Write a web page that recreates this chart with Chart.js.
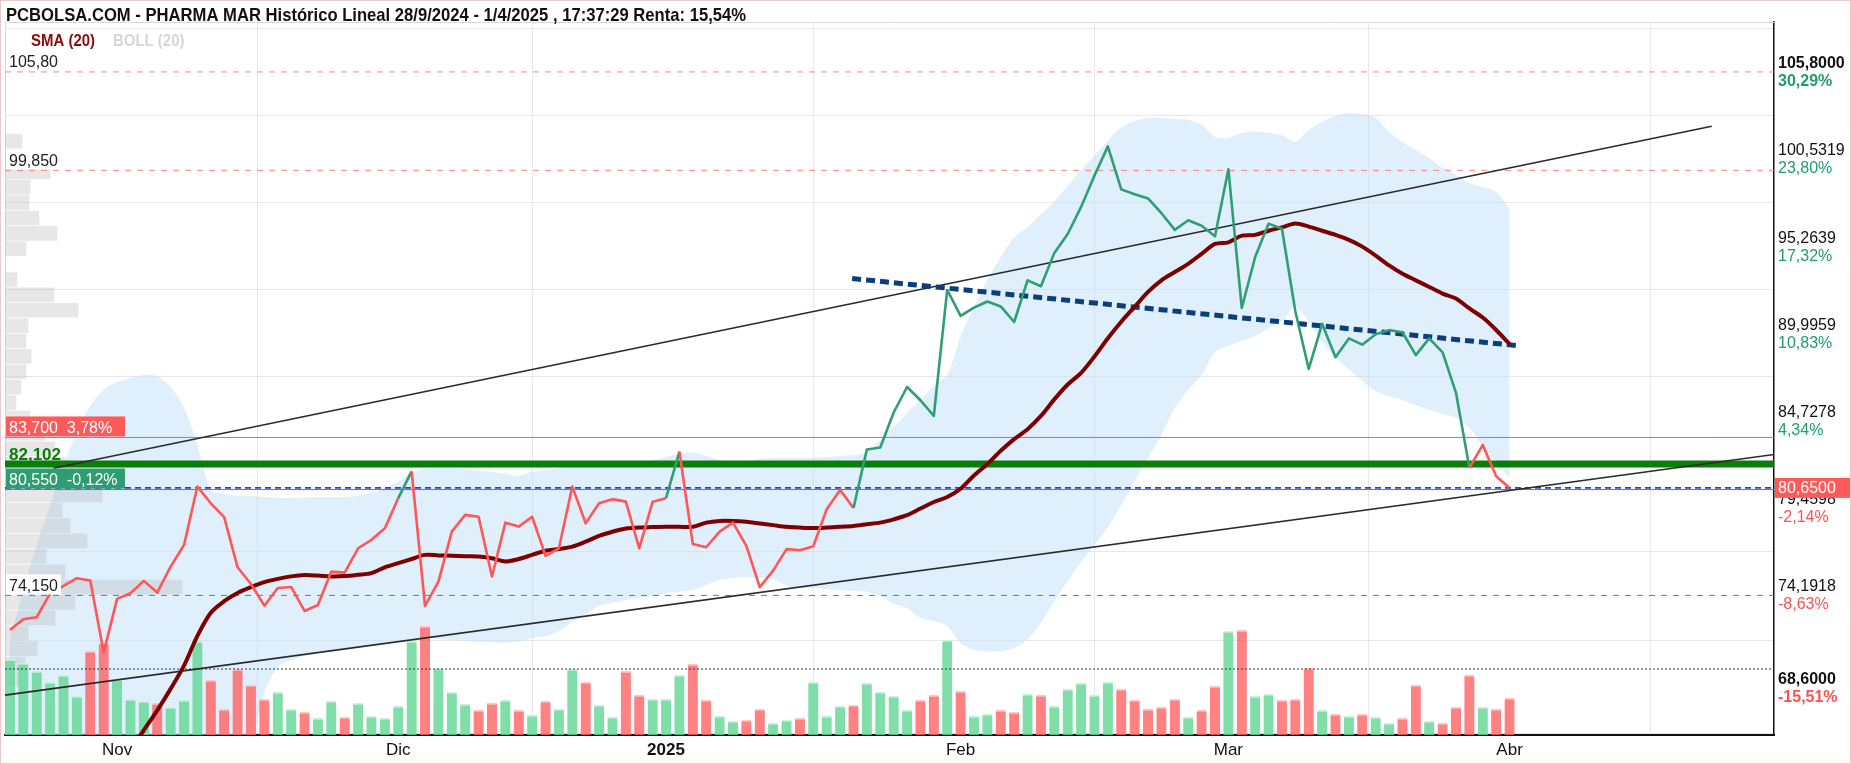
<!DOCTYPE html>
<html>
<head>
<meta charset="utf-8">
<script src="https://cdn.jsdelivr.net/npm/chart.js@4.4.1/dist/chart.umd.min.js"></script>
<style>
html,body{margin:0;padding:0;background:#fff;}
canvas{display:block;}
</style>
</head>
<body>
<canvas id="c" width="1851" height="764"></canvas>
<script>
// ---------------- DATA ----------------
const titleText = 'PCBOLSA.COM - PHARMA MAR Histórico Lineal 28/9/2024 - 1/4/2025 , 17:37:29 Renta: 15,54%';
const legendLabels = ['SMA (20)', 'BOLL (20)'];

// trading-day index of the first session of each month, and its label
const monthTickIndex = [8, 29, 49, 71, 91, 112];
const monthTickLabels = ['Nov', 'Dic', '2025', 'Feb', 'Mar', 'Abr'];

// daily closes, 22/10/2024 .. 1/4/2025
const closePrices = [
  72.06, 72.71, 72.83, 74.28, 74.72, 75.19, 75.05, 70.69, 73.94, 74.28,
  75.03, 74.32, 75.89, 77.20, 80.73, 79.72, 78.88, 75.85, 74.84, 73.53,
  74.60, 74.66, 73.21, 73.57, 75.59, 75.53, 77.00, 77.51, 78.21, 80.03,
  81.65, 73.51, 74.98, 78.01, 79.02, 78.91, 75.29, 78.55, 78.31, 78.91,
  76.54, 77.00, 80.73, 78.51, 79.72, 79.97, 79.82, 77.00, 79.82, 80.03,
  82.84, 77.26, 77.06, 78.01, 78.55, 77.14, 74.65, 75.65, 76.95, 76.88,
  77.12, 79.36, 80.53, 79.44, 82.97, 83.09, 85.21, 86.75, 85.95, 85.01,
  92.62, 91.05, 91.55, 91.92, 91.62, 90.68, 93.20, 92.84, 94.86, 96.00,
  97.64, 99.54, 101.30, 98.70, 98.40, 98.15, 97.26, 96.25, 96.83, 96.50,
  95.87, 99.91, 91.53, 94.61, 96.63, 96.32, 91.33, 87.84, 90.57, 88.55,
  89.69, 89.31, 89.94, 90.19, 90.06, 88.68, 89.69, 88.85, 86.40, 81.86,
  83.25, 81.35, 80.65
];

const sma20 = [
  null, null, null, null, null, null, null, null, null, 64.8,
  66.0, 67.2, 68.5, 69.9, 71.7, 73.1, 73.8, 74.3, 74.65, 74.95,
  75.15, 75.3, 75.38, 75.35, 75.3, 75.32, 75.4, 75.5, 75.85, 76.1,
  76.35, 76.6, 76.57, 76.55, 76.52, 76.5, 76.4, 76.2, 76.35, 76.6,
  76.85, 76.95, 77.1, 77.4, 77.75, 78.0, 78.2, 78.25, 78.28, 78.3,
  78.3, 78.3, 78.55, 78.65, 78.65, 78.6, 78.5, 78.4, 78.3, 78.25,
  78.22, 78.25, 78.3, 78.35, 78.45, 78.55, 78.75, 79.0, 79.4, 79.8,
  80.1, 80.6, 81.4, 82.1, 82.9, 83.6, 84.2, 85.0, 86.0, 86.9,
  87.6, 88.6, 89.7, 90.7, 91.6, 92.5, 93.2, 93.7, 94.2, 94.8,
  95.4, 95.5, 95.9, 95.95, 96.2, 96.4, 96.63, 96.45, 96.2, 95.95,
  95.65, 95.24, 94.7, 94.1, 93.6, 93.2, 92.8, 92.4, 92.1, 91.5,
  90.95, 90.2, 89.35
];

const bollUpper = [
  71.46, 74.48, 77.20, 79.62, 82.04, 84.03, 85.61, 86.57, 87.06, 87.30,
  87.48, 87.39, 86.76, 85.49, 83.25, 80.53, 80.29, 80.17, 80.17, 80.10,
  80.07, 80.04, 80.07, 80.10, 80.10, 80.10, 80.17, 80.35, 80.65, 81.01,
  81.56, 81.80, 81.86, 81.86, 81.80, 81.68, 81.62, 81.50, 81.37, 81.62,
  81.74, 81.86, 81.92, 81.92, 81.92, 81.94, 82.04, 82.22, 82.34, 82.52,
  82.70, 82.77, 82.58, 82.34, 82.16, 82.22, 82.40, 82.46, 82.46, 82.46,
  82.46, 82.52, 82.58, 82.64, 82.83, 83.55, 84.34, 85.18, 85.97, 86.82,
  87.48, 89.80, 91.60, 93.20, 94.60, 95.80, 96.40, 97.20, 97.97, 98.90,
  99.85, 100.74, 101.65, 102.45, 102.84, 103.02, 103.02, 102.96, 102.90, 102.60,
  101.87, 101.81, 102.11, 102.20, 102.11, 101.99, 101.57, 102.29, 102.78, 103.14,
  103.32, 103.26, 103.02, 102.17, 101.57, 101.08, 100.60, 100.00, 99.57, 99.09,
  98.85, 98.54, 97.52
];

const bollLower = [
  62.0, 61.0, 60.0, 59.5, 59.0, 58.5, 58.5, 58.5, 58.8, 59.5,
  60.5, 61.5, 62.5, 63.2, 63.8, 64.3, 64.7, 65.0, 65.4, 68.3,
  69.8, 70.25, 70.49, 70.67, 70.80, 70.86, 70.98, 71.10, 71.25, 71.34,
  71.52, 71.58, 71.52, 71.46, 71.40, 71.34, 71.31, 71.28, 71.37, 71.58,
  71.70, 72.00, 72.55, 73.03, 73.51, 73.70, 73.88, 74.00, 74.12, 74.30,
  74.39, 74.48, 74.78, 75.09, 75.21, 75.27, 75.21, 75.15, 74.72, 74.60,
  74.60, 74.54, 74.48, 74.42, 74.36, 74.12, 73.64, 73.39, 72.79, 72.60,
  72.30, 71.28, 70.86, 70.76, 70.76, 70.98, 71.50, 72.50, 73.80, 75.00,
  76.17, 77.20, 78.29, 79.62, 81.07, 82.46, 83.85, 85.49, 86.57, 87.48,
  88.87, 89.23, 89.54, 89.84, 90.32, 90.69, 91.59, 90.69, 89.48, 88.51,
  87.84, 87.12, 86.51, 86.21, 85.97, 85.67, 85.37, 85.12, 84.88, 84.28,
  83.13, 82.22, 81.25
];

// daily volume (relative units)
const volume = [
  76, 72, 64, 53, 60, 39, 84, 92, 56, 36,
  34, 32, 28, 35, 94, 55, 26, 66, 50, 36,
  43, 26, 23, 17, 34, 18, 32, 19, 17, 29,
  94, 109, 67, 43, 31, 25, 32, 35, 25, 20,
  34, 26, 66, 53, 30, 18, 64, 40, 36, 36,
  60, 71, 35, 19, 14, 15, 26, 12, 15, 17,
  53, 19, 29, 30, 52, 43, 39, 25, 35, 40,
  95, 44, 19, 21, 25, 23, 41, 40, 29, 46,
  52, 40, 53, 46, 35, 26, 28, 36, 18, 25,
  49, 104, 105, 39, 41, 35, 36, 67, 25, 21,
  19, 21, 18, 12, 17, 50, 14, 12, 28, 60,
  28, 26, 37
];
// 1 = up day (green bar), 0 = down day (red bar)
const volumeUp = [
  1,1,1,1,1,1,0,0,1,1,
  1,0,1,1,1,0,0,0,0,0,
  1,1,0,1,1,0,1,1,1,1,
  1,0,1,1,1,0,0,1,0,1,
  0,1,1,0,1,1,0,0,1,1,
  1,0,0,1,1,0,0,1,1,0,
  1,1,1,0,1,1,1,1,0,0,
  1,0,1,1,0,0,1,0,1,1,
  1,1,1,0,0,0,0,0,1,0,
  0,1,0,1,1,0,0,0,1,0,
  1,0,1,1,0,0,1,0,0,0,
  1,0,0
];

// volume-by-price profile (price bin centre, relative volume)
const profilePrice = [101.62, 100.69, 99.76, 98.83, 97.90, 96.97, 96.04, 95.11, 93.25, 92.32,
  91.39, 90.46, 89.53, 88.60, 87.67, 86.74, 85.81, 84.88, 83.95, 83.02,
  82.09, 81.16, 80.23, 79.30, 78.37, 77.44, 76.51, 75.58, 74.65, 73.72,
  72.79, 71.86, 70.93, 70.00, 69.07];
const profileVolume = [17, 10, 45, 25, 24, 34, 52, 21, 12, 49,
  73, 23, 21, 26, 21, 16, 11, 25, 40, 50,
  60, 70, 97, 57, 65, 82, 41, 60, 177, 70,
  50, 23, 32, 20, 15];

// right axis ticks
const priceTicks = [105.8, 100.5319, 95.2639, 89.9959, 84.7278, 79.4598, 74.1918, 68.6];
const priceTickPct = ['30,29%', '23,80%', '17,32%', '10,83%', '4,34%', '-2,14%', '-8,63%', '-15,51%'];

// horizontal reference levels and their labels
const maxLevel = 105.80, maxLabel = '105,80';
const highLevel = 99.85, highLabel = '99,850';
const redLevel = 83.70, redLabel = '83,700  3,78%';
const greenLevel = 82.102, greenLabel = '82,102';
const greenBoxLevel = 80.55, greenBoxLabel = '80,550  -0,12%';
const lastPrice = 80.65, lastLabel = '80,6500';
const lowLevel = 74.15, lowLabel = '74,150';
const dottedLevel = 69.7;
const basePrice = 81.2;      // 0 % reference of the right axis
const redTailStart = 110;    // last sessions drawn red

// trend lines (x = trading-day index, y = price)
const upperTrendX = [3.24, 127.1], upperTrendY = [81.84, 102.52];
const lowerTrendX = [-0.37, 131.75], lowerTrendY = [68.12, 82.67];
const dashTrendX = [62.9, 112.7], dashTrendY = [93.31, 89.24];

// axis ranges
const xMin = -0.37, xMax = 131.75;
const yMin = 65.71, yMax = 108.82;

// ---------------- CHART ----------------
const F = "'Liberation Sans', Arial, sans-serif";
Chart.defaults.font.family = F;
const upColor = '#2f9e72';
const downColor = '#ff5656';

const toXY = arr => arr.map((v, i) => ({x: i, y: v}));
const hLine = v => [{x: xMin, y: v}, {x: xMax, y: v}];
const seg = (xs, ys) => xs.map((x, i) => ({x, y: ys[i]}));
const flat = (data, color, width, dash, order) => ({
  data, borderColor: color, borderWidth: width, borderDash: dash || [], pointRadius: 0,
  fill: false, tension: 0, order
});

// draw text horizontally condensed (narrow face look)
const narrowText = (ctx, text, x, y, sx) => {
  ctx.save();
  ctx.translate(x, y);
  ctx.scale(sx, 1);
  ctx.fillText(text, 0, 0);
  ctx.restore();
};

const deco = {
  id: 'deco',
  beforeDraw(chart) {
    const {ctx, width, height} = chart;
    ctx.save();
    ctx.fillStyle = '#fff';
    ctx.fillRect(0, 0, width, height);
    ctx.restore();
  },
  beforeDatasetsDraw(chart) {
    const {ctx, chartArea: a} = chart;
    ctx.save();
    ctx.strokeStyle = '#d8d8d8';
    ctx.lineWidth = 1;
    ctx.beginPath();
    ctx.moveTo(a.left + 0.5, a.bottom);
    ctx.lineTo(a.left + 0.5, a.top + 0.5);
    ctx.lineTo(a.right, a.top + 0.5);
    ctx.stroke();
    ctx.restore();
  },
  afterDatasetsDraw(chart) {
    const {ctx, chartArea: a, scales: {y}} = chart;
    ctx.save();
    ctx.textBaseline = 'middle';
    const lab = (value, text, o) => {
      const py = y.getPixelForValue(value);
      ctx.font = (o.bold ? 'bold ' : '') + (o.size || 16) + 'px ' + F;
      const w = o.w || ctx.measureText(text).width + 6;
      if (o.bg) { ctx.fillStyle = o.bg; ctx.fillRect(a.left + 1, py - 21, w, 20); }
      ctx.fillStyle = o.fg;
      ctx.fillText(text, a.left + 4, py - 9);
    };
    lab(maxLevel, maxLabel, {fg: '#222'});
    lab(highLevel, highLabel, {fg: '#222', bg: '#fff'});
    lab(redLevel, redLabel, {fg: '#fff', bg: '#ff5a5a', w: 119});
    lab(greenLevel, greenLabel, {fg: '#0a7d0a', bold: true, size: 17});
    lab(greenBoxLevel, greenBoxLabel, {fg: '#fff', bg: '#2e9e70', w: 119});
    lab(lowLevel, lowLabel, {fg: '#222', bg: '#fff'});
    ctx.restore();
  },
  afterDraw(chart) {
    const {ctx, chartArea: a, scales: {y}, width, height} = chart;
    ctx.save();
    ctx.textBaseline = 'middle';
    // title
    ctx.font = 'bold 19px ' + F;
    ctx.fillStyle = '#111';
    narrowText(ctx, titleText, 6, 15.5, 0.875);
    // legend
    ctx.font = 'bold 17px ' + F;
    ctx.fillStyle = '#8b0a0a';
    narrowText(ctx, legendLabels[0], 31, 41, 0.88);
    ctx.fillStyle = '#d6d6d6';
    narrowText(ctx, legendLabels[1], 113, 41, 0.88);
    // percentage labels under the right axis ticks
    priceTicks.forEach((v, i) => {
      const py = y.getPixelForValue(v);
      const edge = i === 0 || i === priceTicks.length - 1;
      ctx.font = (edge ? 'bold ' : '') + '16px ' + F;
      ctx.fillStyle = priceTickPct[i].startsWith('-') ? '#ff5050' : '#1f9d6b';
      ctx.fillText(priceTickPct[i], a.right + 4, py + 10);
    });
    // last price box
    const pl = y.getPixelForValue(lastPrice);
    ctx.fillStyle = '#ff5a5a';
    ctx.fillRect(a.right + 1, pl - 10, width - a.right - 1, 20);
    ctx.fillStyle = '#fff';
    ctx.font = '16px ' + F;
    ctx.fillText(lastLabel, a.right + 4, pl + 1);
    // outer frame
    ctx.strokeStyle = '#efc6c6';
    ctx.lineWidth = 1;
    ctx.strokeRect(0.5, 0.5, width - 1, height - 1);
    ctx.restore();
  }
};

new Chart(document.getElementById('c'), {
  type: 'line',
  data: {
    datasets: [
      {label: 'BOLL up', data: toXY(bollUpper), borderWidth: 0, borderColor: 'rgba(0,0,0,0)',
       backgroundColor: 'rgba(192,224,250,0.5)', fill: '+1', pointRadius: 0, tension: 0.3, order: 30},
      {label: 'BOLL low', data: toXY(bollLower), borderWidth: 0, borderColor: 'rgba(0,0,0,0)',
       fill: false, pointRadius: 0, tension: 0.3, order: 29},
      {type: 'bar', label: 'Perfil', indexAxis: 'y', xAxisID: 'xp', yAxisID: 'y',
       data: profilePrice.map((p, i) => ({x: profileVolume[i], y: p})),
       backgroundColor: 'rgba(185,185,185,0.34)', barThickness: 14, grouped: false, order: 28},
      {type: 'bar', label: 'Volumen', yAxisID: 'yv',
       data: volume.map((v, i) => ({x: i, y: v})),
       backgroundColor: volumeUp.map(u => u ? 'rgba(100,216,150,0.82)' : 'rgba(255,98,98,0.8)'),
       borderColor: volumeUp.map(u => u ? 'rgba(200,242,218,1)' : 'rgba(255,196,196,1)'),
       borderWidth: {top: 2, left: 0, right: 0, bottom: 0}, borderSkipped: 'bottom',
       barThickness: 10, grouped: false, order: 27},
      flat(hLine(maxLevel), 'rgba(255,110,110,0.85)', 1, [6, 6], 20),
      flat(hLine(highLevel), 'rgba(255,110,110,0.85)', 1, [6, 6], 19),
      flat(hLine(redLevel), 'rgba(255,90,90,1)', 1, [], 18),
      flat(hLine(greenBoxLevel), '#2e9e70', 1, [], 17),
      flat(hLine(lastPrice), '#2a3de0', 1.6, [6, 4], 16),
      flat(hLine(lowLevel), '#2e9e70', 1, [6, 6], 15),
      flat(hLine(dottedLevel), '#333', 1.2, [2, 2], 14),
      flat(hLine(greenLevel), '#0b7d0b', 7, [], 13),
      flat(seg(lowerTrendX, lowerTrendY), '#2a2a2a', 1.6, [], 6),
      flat(seg(upperTrendX, upperTrendY), '#2a2a2a', 1.6, [], 5),
      flat(seg(dashTrendX, dashTrendY), '#0b3f7c', 5, [9, 5], 4),
      {label: 'SMA (20)', data: toXY(sma20), borderColor: '#7d0000', borderWidth: 4,
       pointRadius: 0, tension: 0.3, fill: false, order: 3},
      {label: 'Cierre', data: toXY(closePrices), borderColor: downColor, borderWidth: 2.6,
       pointRadius: 0, tension: 0, fill: false, order: 1, borderJoinStyle: 'round',
       segment: {
         borderColor: c => (c.p1.parsed.y > basePrice && c.p1DataIndex < redTailStart) ? upColor : downColor
       }}
    ]
  },
  options: {
    responsive: false,
    animation: false,
    devicePixelRatio: 1,
    events: [],
    layout: {padding: {left: 5, top: 22, right: 0, bottom: 0}},
    plugins: {legend: {display: false}, title: {display: false}, tooltip: {enabled: false}},
    scales: {
      x: {
        type: 'linear', position: 'bottom', min: xMin, max: xMax, offset: false,
        afterBuildTicks: s => { s.ticks = monthTickIndex.map(v => ({value: v})); },
        afterFit: s => { s.height = 29; },
        ticks: {
          autoSkip: false, maxRotation: 0, padding: 5, color: '#111',
          font: c => ({size: 17, weight: monthTickLabels[c.index] === '2025' ? 'bold' : 'normal'}),
          callback: v => { const k = monthTickIndex.indexOf(v); return k >= 0 ? monthTickLabels[k] : ''; }
        },
        grid: {color: '#e8e8e8', drawTicks: false},
        border: {display: true, color: '#111', width: 2}
      },
      y: {
        type: 'linear', position: 'right', min: yMin, max: yMax, offset: false,
        afterBuildTicks: s => { s.ticks = priceTicks.map(v => ({value: v})); },
        afterFit: s => { s.width = 77; },
        ticks: {
          autoSkip: false, padding: 4, color: '#111', labelOffset: -8,
          font: c => ({size: 16, weight: (c.index === 0 || c.index === priceTicks.length - 1) ? 'bold' : 'normal'}),
          callback: v => v.toFixed(4).replace('.', ',')
        },
        grid: {color: '#e8e8e8', drawTicks: false},
        border: {display: true, color: '#111', width: 1.5}
      },
      yv: {type: 'linear', display: false, min: 0, max: 713},
      xp: {type: 'linear', display: false, min: 0, max: 1769}
    }
  },
  plugins: [deco]
});
</script>
</body>
</html>
